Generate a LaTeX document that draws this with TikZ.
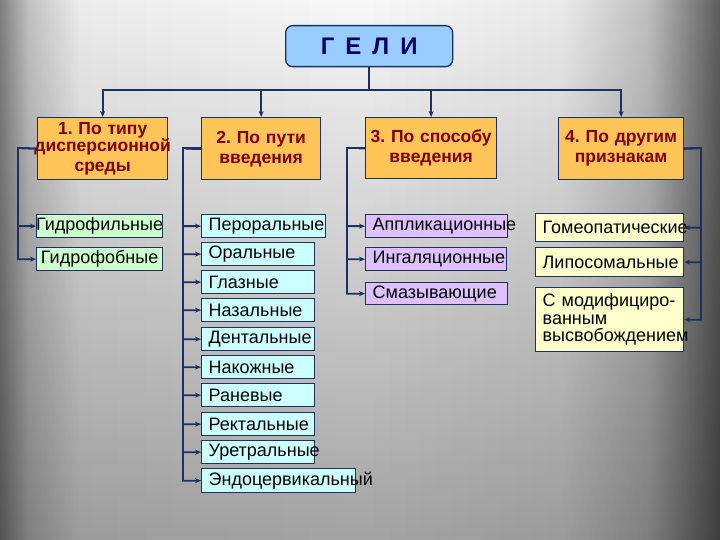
\documentclass[tikz,border=0pt]{standalone}
\usepackage{fontspec}
\setmainfont{Liberation Sans}
\usetikzlibrary{arrows.meta,fadings}

\definecolor{liniya}{RGB}{28,48,98}
\definecolor{zagolovok}{RGB}{0,0,102}
\definecolor{goluboy}{RGB}{153,204,255}
\definecolor{oranzh}{RGB}{255,197,88}
\definecolor{bordo}{RGB}{128,0,0}
\definecolor{zelen}{RGB}{204,255,204}
\definecolor{biruza}{RGB}{204,255,255}
\definecolor{lilac}{RGB}{222,192,255}
\definecolor{zhelt}{RGB}{255,255,204}

\pgfdeclarehorizontalshading{fonh}{100bp}{color(0bp)=(black!50); color(25bp)=(black!50);
	color(27bp)=(black!24); color(30.6bp)=(black!7); color(50bp)=(black!3);
	color(64bp)=(black!8); color(70bp)=(black!25); color(75bp)=(black!64); color(100bp)=(black!64)}
\tikzfading[name=fonv, top color=transparent!100, bottom color=transparent!66]

\begin{document}
\frenchspacing
\begin{tikzpicture}[x=1pt,y=-1pt,
	conn/.style={draw=liniya,line width=1.8pt,-{Stealth[length=6pt,width=5pt]}},
	shina/.style={draw=liniya,line width=1.8pt},
	ramka/.style={draw=liniya,line width=1.3pt,anchor=north west,inner ysep=0pt},
	kategoriya/.style={ramka,fill=oranzh,text=bordo,align=center,inner xsep=2pt,
		minimum height=62pt,font=\bfseries\fontsize{17.5}{20}\selectfont},
	punkt/.style={ramka,fill=#1,align=left,inner xsep=7pt,minimum height=23pt,
		font=\fontsize{18}{17.5}\selectfont}]
	\useasboundingbox (0,0) rectangle (720,540);
	\shade[shading=fonh] (0,0) rectangle (720,540);
	\fill[black,path fading=fonv] (0,0) rectangle (720,540);

	\node[ramka,fill=goluboy,rounded corners=7pt,minimum width=167pt,minimum height=41pt,
		font=\bfseries\fontsize{24}{24}\selectfont,text=zagolovok] (geli) at (285,25)
		{Г\hspace{11pt}Е\hspace{11pt}Л\hspace{11pt}И};

	\node[kategoriya,text width=126pt] (potipu) at (37,117)
		{\fontsize{17.5}{15}\selectfont 1. По типу\\\makebox[0pt]{дисперсионной}\\среды};
	\node[kategoriya,text width=115pt] (poputi) at (201,117) {2. По пути\\введения};
	\node[kategoriya,text width=127pt,minimum height=61pt] (posposobu) at (365,117) {3. По способу\\введения};
	\node[kategoriya,text width=121pt] (podrugim) at (558,117) {4. По другим\\признакам};

	\path (geli.south) ++(0,23) coordinate (verh);
	\draw[shina] (geli.south) -- (verh);
	\foreach \kat in {potipu,poputi,posposobu,podrugim}
		\draw[conn] (verh) -| (\kat.north);

	\node[punkt=zelen,align=center,text width=112pt] (gidrofil) at (36,214) {\makebox[0pt]{Гидрофильные}};
	\node[punkt=zelen,align=center,text width=112pt] (gidrofob) at (36,247) {\makebox[0pt]{Гидрофобные}};

	\node[punkt=biruza,text width=110pt] (peroral) at (201,214) {Пероральные};
	\foreach \imya/\tekst/\y in {oral/Оральные/242,glaz/Глазные/270,nazal/Назальные/298,
		dental/Дентальные/327,nakozh/Накожные/355,ranev/Раневые/383,
		rektal/Ректальные/412,uretr/Уретральные/440}
		\node[punkt=biruza,text width=99pt] (\imya) at (201,\y) {\tekst};
	\node[punkt=biruza,text width=140pt,minimum height=24pt] (endo) at (201,468) {Эндоцервикальный};

	\node[punkt=lilac,text width=128pt] (applik) at (365,214) {Аппликационные};
	\node[punkt=lilac,text width=127pt] (ingal) at (365,247) {Ингаляционные};
	\node[punkt=lilac,text width=128pt,minimum height=22pt] (smaz) at (365,282) {Смазывающие};

	\node[punkt=zhelt,text width=134pt,minimum height=28pt] (gomeo) at (535,213) {Гомеопатические};
	\node[punkt=zhelt,text width=134pt,minimum height=29pt] (lipos) at (535,247) {Липосомальные};
	\node[punkt=zhelt,text width=134pt,minimum height=64pt] (modif) at (535,287)
		{С модифициро-\\ванным\\высвобождением};

	\coordinate (tipu) at (18,148);
	\coordinate (puti) at (183,148);
	\coordinate (sposob) at (347,148);
	\coordinate (drug) at (701,148);
	\foreach \imya in {gidrofil,gidrofob}
		\draw[conn] (potipu.west) -- (tipu) |- (\imya.west);
	\foreach \imya in {peroral,oral,glaz,nazal,dental,nakozh,ranev,rektal,uretr,endo}
		\draw[conn] (poputi.west) -- (puti) |- (\imya.west);
	\foreach \imya in {applik,ingal,smaz}
		\draw[conn] (posposobu.west) -- (sposob) |- (\imya.west);
	\foreach \imya in {gomeo,lipos,modif}
		\draw[conn] (podrugim.east) -- (drug) |- (\imya.east);
\end{tikzpicture}
\end{document}
